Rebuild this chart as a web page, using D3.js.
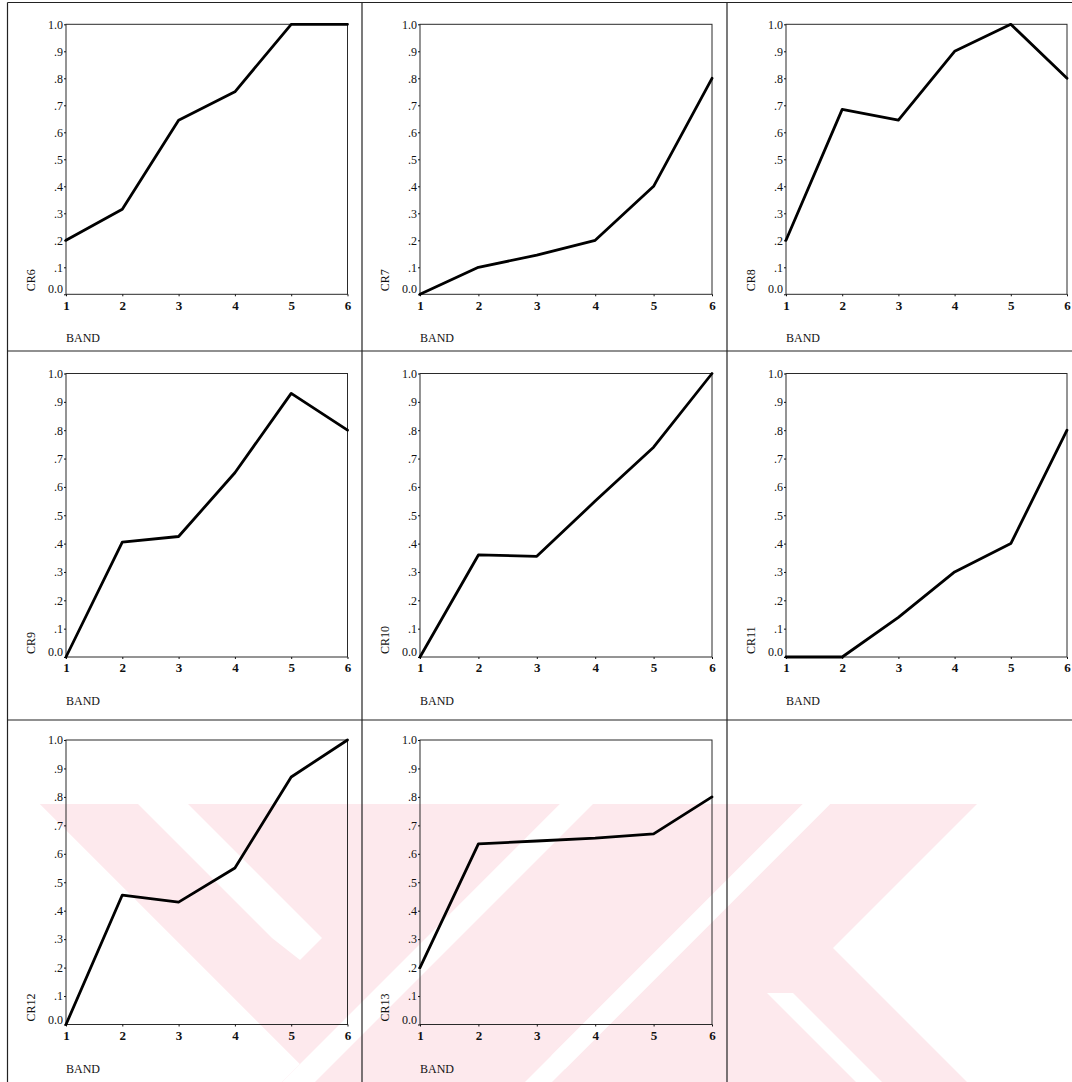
<!DOCTYPE html>
<html>
<head>
<meta charset="utf-8">
<script src="https://cdn.jsdelivr.net/npm/d3@7"></script>
<style>
  body { margin: 0; background: #fff; }
  svg { display: block; }
  text { font-family: "Liberation Serif", "Times New Roman", serif; fill: #111; }
</style>
</head>
<body>
<svg id="chart" width="1072" height="1082"></svg>
<script>
// ---- data ----
const bands = [1, 2, 3, 4, 5, 6];
const seriesNames = ["CR6", "CR7", "CR8", "CR9", "CR10", "CR11", "CR12", "CR13"];
const cr6  = [0.20, 0.315, 0.645, 0.75, 1.00, 1.00];
const cr7  = [0.00, 0.10, 0.145, 0.20, 0.40, 0.80];
const cr8  = [0.20, 0.685, 0.645, 0.90, 1.00, 0.80];
const cr9  = [0.00, 0.405, 0.425, 0.65, 0.93, 0.80];
const cr10 = [0.00, 0.36, 0.355, 0.55, 0.74, 1.00];
const cr11 = [0.00, 0.00, 0.14, 0.30, 0.40, 0.80];
const cr12 = [0.00, 0.455, 0.43, 0.55, 0.87, 1.00];
const cr13 = [0.20, 0.635, 0.645, 0.655, 0.67, 0.80];
const seriesValues = [cr6, cr7, cr8, cr9, cr10, cr11, cr12, cr13];
const yTickValues = [0, 0.1, 0.2, 0.3, 0.4, 0.5, 0.6, 0.7, 0.8, 0.9, 1.0];
const yTickLabels = ["0.0", ".1", ".2", ".3", ".4", ".5", ".6", ".7", ".8", ".9", "1.0"];
const xTitle = "BAND";

// ---- layout ----
const W = 1072, H = 1082;
const colLeft  = [66, 420, 786];
const colRight = [347.5, 712, 1067];
const rowTop    = [24.3, 373.5, 740];
const rowBottom = [294.3, 657, 1024.5];
const gridX = [7.5, 362, 727];
const gridY = [2.5, 351, 720];

const svg = d3.select("#chart");

// ---- background stamp (pale diagonal bands in the lower part) ----
const stamp = svg.append("g");
stamp.append("clipPath").attr("id", "stampClip")
  .append("rect").attr("x", 0).attr("y", 804).attr("width", W).attr("height", H - 804);
const sg = stamp.append("g").attr("clip-path", "url(#stampClip)");
const pink = "#fde9ed";
const pinkShapes = [
  [[40, 804], [560, 804], [282, 1082], [318, 1082]],
  [[40, 804], [300, 804], [578, 1082], [318, 1082]],
  [[560, 804], [803, 804], [525, 1082], [282, 1082]],
  [[830, 804], [977, 804], [833, 948], [967, 1082], [552, 1082]]
];
const whiteShapes = [
  [[138, 804], [188, 804], [322, 938], [300, 960], [272, 938]],
  [[560, 804], [593, 804], [315, 1082], [282, 1082]],
  [[803, 804], [830, 804], [552, 1082], [525, 1082]],
  [[767, 993], [793, 993], [882, 1082], [856, 1082]]
];
const poly = d3.line();
pinkShapes.forEach(p => sg.append("path").attr("d", poly(p) + "Z").attr("fill", pink));
whiteShapes.forEach(p => sg.append("path").attr("d", poly(p) + "Z").attr("fill", "#fff"));

// ---- cell rules ----
const rules = svg.append("g").attr("stroke", "#222").attr("stroke-width", 1.2);
gridX.forEach(x => rules.append("line").attr("x1", x).attr("x2", x).attr("y1", gridY[0]).attr("y2", H));
gridY.forEach(y => rules.append("line").attr("x1", gridX[0]).attr("x2", W).attr("y1", y).attr("y2", y));

// ---- panels ----
seriesNames.forEach((name, i) => {
  const r = Math.floor(i / 3), c = i % 3;
  const x0 = colLeft[c], x1 = colRight[c], y0 = rowTop[r], y1 = rowBottom[r];
  const x = d3.scaleLinear().domain([1, 6]).range([x0, x1]);
  const y = d3.scaleLinear().domain([0, 1]).range([y1, y0]);
  const g = svg.append("g");

  // frame
  g.append("rect").attr("x", x0).attr("y", y0).attr("width", x1 - x0).attr("height", y1 - y0)
    .attr("fill", "none").attr("stroke", "#2a2a2a").attr("stroke-width", 1);

  // y axis
  const ya = g.append("g").attr("transform", `translate(${x0},0)`)
    .call(d3.axisLeft(y).tickValues(yTickValues).tickSize(2).tickPadding(1)
      .tickFormat((d, k) => yTickLabels[k]));
  ya.select(".domain").remove();
  ya.selectAll("line").attr("stroke", "#111");
  ya.selectAll("text").attr("font-size", 12).attr("font-family", null).attr("fill", "#111")
    .attr("dy", (d) => d === 0 ? "-0.12em" : "0.32em");

  // x axis
  const xa = g.append("g").attr("transform", `translate(0,${y1})`)
    .call(d3.axisBottom(x).tickValues(bands).tickSize(2).tickPadding(4).tickFormat(d3.format("d")));
  xa.select(".domain").remove();
  xa.selectAll("line").attr("stroke", "#111");
  xa.selectAll("text").attr("font-size", 13).attr("font-weight", "bold")
    .attr("font-family", null).attr("fill", "#111");

  // axis titles
  g.append("text").attr("x", x0).attr("y", y1 + 48).attr("font-size", 12).text(xTitle);
  g.append("text")
    .attr("transform", `translate(${x0 - 31},${y1 - 3}) rotate(-90)`)
    .attr("font-size", 12).text(name);

  // series line
  const line = d3.line().x((d, k) => x(bands[k])).y(d => y(d));
  g.append("path").datum(seriesValues[i]).attr("d", line)
    .attr("fill", "none").attr("stroke", "#000").attr("stroke-width", 2.8)
    .attr("stroke-linejoin", "round").attr("stroke-linecap", "round");
});
</script>
</body>
</html>
